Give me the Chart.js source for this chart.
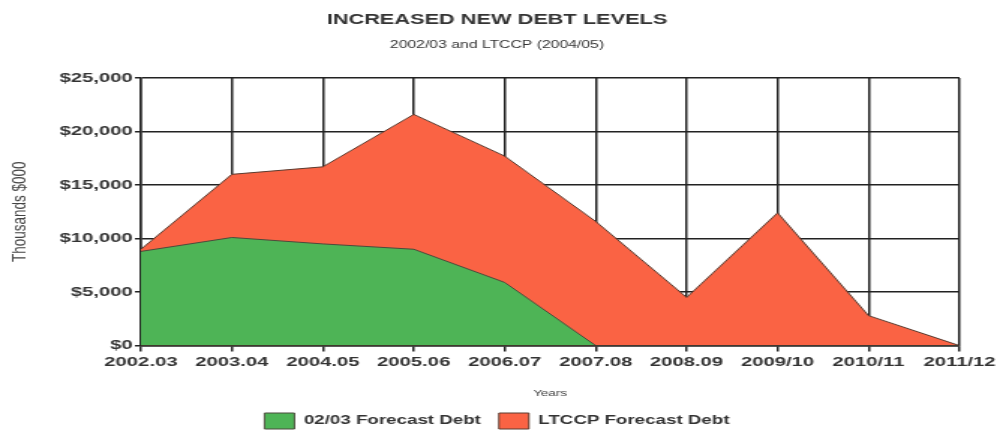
<!DOCTYPE html>
<html><head><meta charset="utf-8">
<script src="https://cdn.jsdelivr.net/npm/chart.js@4"></script>
<style>
html,body{margin:0;padding:0;background:#fff;overflow:hidden}
#wrap{position:absolute;left:0;top:0;width:667px;height:432px;transform:scaleX(1.49925);transform-origin:0 0}
</style>
</head><body>
<div id="wrap"><canvas id="c"></canvas></div>
<script>
const categories = ['2002.03','2003.04','2004.05','2005.06','2006.07','2007.08','2008.09','2009/10','2010/11','2011/12'];
const forecast0203 = [8800, 10100, 9500, 9000, 5900, 0, 0, 0, 0, 0];
const ltccpForecast = [9000, 16000, 16700, 21600, 17700, 11600, 4500, 12400, 2800, 0];
const yTickLabels = ['$0','$5,000','$10,000','$15,000','$20,000','$25,000'];
const seriesNames = ['02/03 Forecast Debt', 'LTCCP Forecast Debt'];

const FAM = "'Liberation Sans', Arial, sans-serif";
const GREEN = 'rgb(78,180,86)';
const RED = 'rgb(250,99,68)';
const GRID = '#222';

new Chart(document.getElementById('c'), {
  type: 'line',
  data: {
    labels: categories,
    datasets: [
      { label: seriesNames[0], data: forecast0203, backgroundColor: GREEN, borderColor: '#4b4b3c', borderWidth: 1, fill: 'origin', pointRadius: 0, tension: 0 },
      { label: seriesNames[1], data: ltccpForecast, backgroundColor: RED, borderColor: '#5a3c30', borderWidth: 1, fill: 'origin', pointRadius: 0, tension: 0 }
    ]
  },
  options: {
    responsive: true,
    maintainAspectRatio: false,
    animation: false,
    devicePixelRatio: 1,
    layout: { padding: { left: 0, right: 4, top: 0, bottom: -7 } },
    plugins: {
      title: { display: true, text: 'INCREASED NEW DEBT LEVELS', color: '#333', font: { family: FAM, size: 14.5, weight: 'bold' }, padding: { top: 11, bottom: 5 } },
      subtitle: { display: true, text: '2002/03 and LTCCP (2004/05)', color: '#333', font: { family: FAM, size: 10.5 }, padding: { top: 5, bottom: 27 } },
      legend: { position: 'bottom', labels: { boxWidth: 20, boxHeight: 16, padding: 12, color: '#333', font: { family: FAM, size: 12.5, weight: 'bold' } } },
      tooltip: { enabled: false }
    },
    scales: {
      x: {
        type: 'category', offset: false,
        grid: { color: GRID, lineWidth: 1.5, tickLength: 6 },
        border: { color: GRID, width: 1.5 },
        ticks: { color: '#333', font: { family: FAM, size: 13.5, weight: 'bold' }, maxRotation: 0, minRotation: 0, autoSkip: false, padding: 3 },
        title: { display: true, text: 'Years', color: '#444', font: { family: FAM, size: 9 }, padding: { top: 14.4, bottom: 2 } }
      },
      y: {
        min: 0, max: 25000,
        grid: { color: GRID, lineWidth: 1.5, tickLength: 4 },
        border: { color: GRID, width: 1.5 },
        ticks: { stepSize: 5000, color: '#333', padding: 1.5, font: { family: FAM, size: 13.5, weight: 'bold' }, callback: (v, i) => yTickLabels[i] },
        title: { display: true, text: 'Thousands $000', color: '#444', font: { family: FAM, size: 13.5 }, padding: { top: 5, bottom: 0 } },
        afterFit(s) { s.width = 94; }
      }
    }
  }
});
</script>
</body></html>
